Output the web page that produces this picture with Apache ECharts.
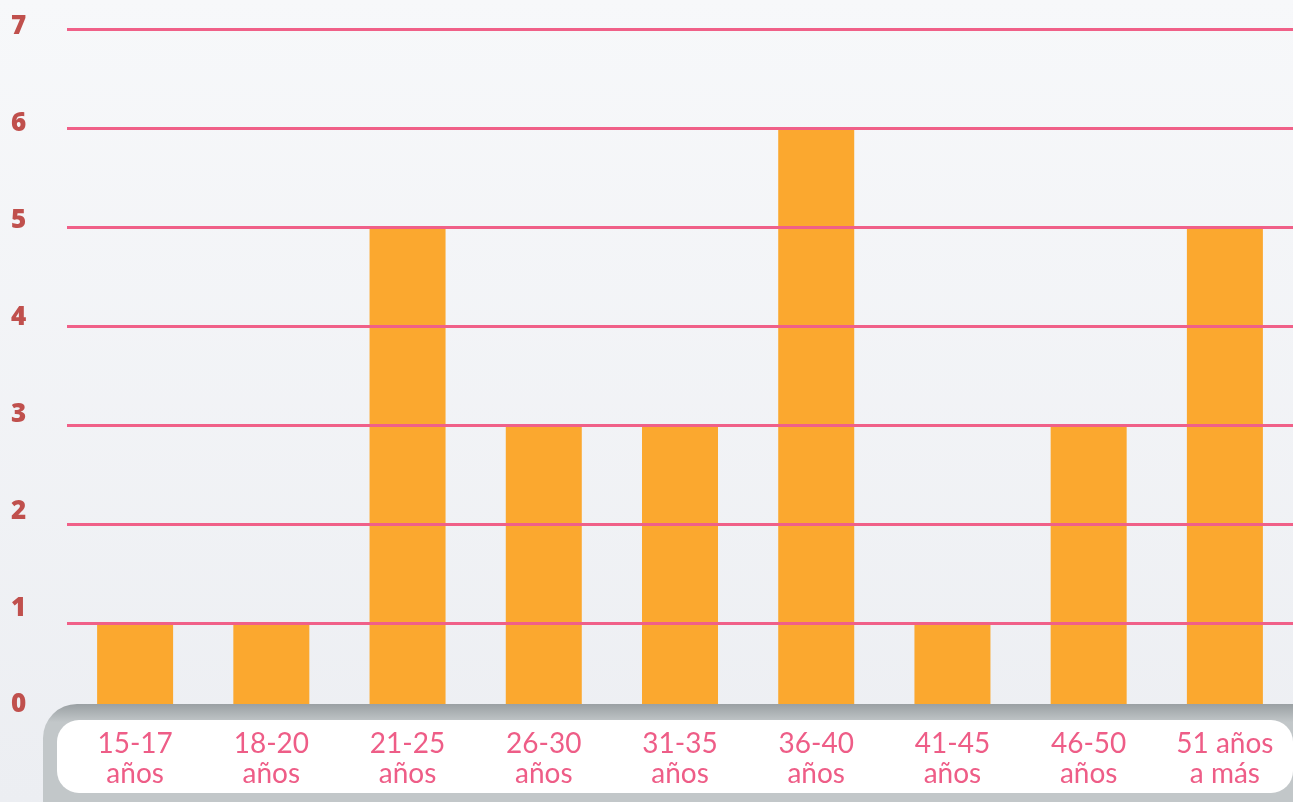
<!DOCTYPE html>
<html>
<head>
<meta charset="utf-8">
<script src="https://cdn.jsdelivr.net/npm/echarts@6/dist/echarts.min.js"></script>
<style>
html,body{margin:0;padding:0;width:1293px;height:802px;overflow:hidden;}
#c{width:1293px;height:802px;}
</style>
</head>
<body>
<div id="c"></div>
<script>
const categories = ['15-17\naños','18-20\naños','21-25\naños','26-30\naños','31-35\naños','36-40\naños','41-45\naños','46-50\naños','51 años\na más'];
const values = [1, 1, 5, 3, 3, 6, 1, 3, 5];
const yTicks = [0, 1, 2, 3, 4, 5, 6, 7];

const chart = echarts.init(document.getElementById('c'));
chart.setOption({
  animation: false,
  backgroundColor: {
    type: 'linear', x: 0, y: 0, x2: 0, y2: 1,
    colorStops: [{offset: 0, color: '#f7f8fa'}, {offset: 1, color: '#eceef2'}]
  },
  grid: [
    {left: 67, right: 0, top: 29, bottom: 80},
    {left: 67, right: 0, top: 27, bottom: 97}
  ],
  xAxis: [
    {
      type: 'category', gridIndex: 0, data: categories, z: 5,
      axisLine: {show: false}, axisTick: {show: false},
      axisLabel: {
        interval: 0, margin: 7, color: '#ee5d87',
        fontFamily: 'Lato', fontWeight: 400, fontSize: 28, lineHeight: 30,
        verticalAlign: 'top'
      }
    },
    {
      type: 'category', gridIndex: 1, data: categories, show: false
    }
  ],
  yAxis: [
    {
      type: 'value', gridIndex: 0, min: 0, max: 7, interval: 1, z: 2,
      axisLabel: {show: false},
      axisLine: {show: false}, axisTick: {show: false},
      splitLine: {lineStyle: {color: '#f06088', width: 3}}
    },
    {
      type: 'value', gridIndex: 1, min: 0, max: 7, interval: 1, z: 6,
      axisLine: {show: false}, axisTick: {show: false}, splitLine: {show: false},
      axisLabel: {
        align: 'left', margin: 56, color: '#c0504d',
        fontFamily: 'Open Sans', fontWeight: 800, fontSize: 26,
        formatter: v => yTicks.includes(v) ? String(v) : ''
      }
    }
  ],
  graphic: [
    {
      type: 'rect', z: 3,
      shape: {x: 43, y: 704, width: 1300, height: 130, r: 34},
      style: {
        fill: {
          type: 'linear', x: 0, y: 0, x2: 0, y2: 1,
          colorStops: [
            {offset: 0, color: '#9aa0a3'},
            {offset: 0.14, color: '#c2c7c9'},
            {offset: 1, color: '#c2c7c9'}
          ]
        }
      }
    },
    {
      type: 'rect', z: 4,
      shape: {x: 57, y: 720, width: 1236, height: 73, r: 22},
      style: {fill: '#ffffff'}
    }
  ],
  series: [
    {
      type: 'bar', xAxisIndex: 0, yAxisIndex: 0, data: values,
      barWidth: 76, z: 1,
      itemStyle: {color: '#fba82f'}
    }
  ]
});
</script>
</body>
</html>
